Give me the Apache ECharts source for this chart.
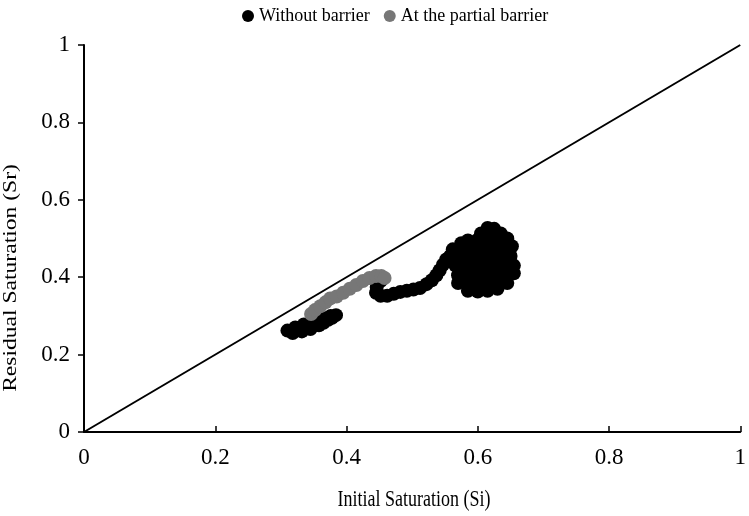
<!DOCTYPE html>
<html>
<head>
<meta charset="utf-8">
<script src="https://cdn.jsdelivr.net/npm/echarts@6/dist/echarts.min.js"></script>
<style>
  html, body { margin: 0; padding: 0; background: #fff; }
  #chart { width: 749px; height: 516px; }
</style>
</head>
<body>
<div id="chart"></div>
<script>
// points: [Si, Sr]
const withoutBarrier = [
  // lower-left tail
  [0.310, 0.262], [0.318, 0.256], [0.325, 0.265], [0.332, 0.260], [0.338, 0.270],
  [0.345, 0.266], [0.350, 0.275], [0.358, 0.276], [0.365, 0.282], [0.372, 0.290],
  [0.378, 0.295], [0.384, 0.302], [0.335, 0.278], [0.355, 0.286], [0.368, 0.294],
  [0.322, 0.270], [0.347, 0.281], [0.376, 0.300],
  // hook under the grey run and the climb to the cluster
  [0.452, 0.390], [0.446, 0.375], [0.445, 0.360], [0.452, 0.352], [0.462, 0.352],
  [0.472, 0.357], [0.482, 0.362], [0.492, 0.365], [0.502, 0.368], [0.512, 0.372],
  [0.522, 0.382], [0.530, 0.392], [0.537, 0.405], [0.542, 0.418], [0.547, 0.432],
  [0.552, 0.446],
  // main cluster
  [0.585, 0.365], [0.600, 0.363], [0.615, 0.365], [0.630, 0.370],
  [0.570, 0.385], [0.585, 0.385], [0.600, 0.385], [0.615, 0.385], [0.630, 0.385], [0.645, 0.385],
  [0.570, 0.405], [0.585, 0.405], [0.600, 0.405], [0.615, 0.405], [0.630, 0.405], [0.645, 0.405], [0.655, 0.410],
  [0.566, 0.430], [0.580, 0.430], [0.595, 0.430], [0.610, 0.430], [0.625, 0.430], [0.640, 0.430], [0.655, 0.430],
  [0.558, 0.455], [0.575, 0.455], [0.590, 0.455], [0.605, 0.455], [0.620, 0.455], [0.635, 0.455], [0.650, 0.455],
  [0.562, 0.472], [0.580, 0.475], [0.595, 0.475], [0.610, 0.475], [0.625, 0.475], [0.640, 0.475], [0.652, 0.480],
  [0.575, 0.488], [0.585, 0.495], [0.600, 0.497], [0.615, 0.495], [0.630, 0.495], [0.645, 0.500],
  [0.605, 0.513], [0.620, 0.515], [0.635, 0.513],
  [0.615, 0.527], [0.625, 0.525]
];

const partialBarrier = [
  [0.346, 0.305], [0.352, 0.315], [0.360, 0.325], [0.368, 0.335], [0.375, 0.345],
  [0.385, 0.350], [0.395, 0.360], [0.405, 0.370], [0.415, 0.380], [0.425, 0.390],
  [0.435, 0.398], [0.445, 0.403], [0.453, 0.403], [0.458, 0.398]
];

const oneToOne = [[0, 0], [1, 1]];

const font = 'Liberation Serif';

const chart = echarts.init(document.getElementById('chart'));

chart.setOption({
  animation: false,
  textStyle: { fontFamily: font, color: '#000' },
  legend: {
    top: 2,
    left: 237,
    itemWidth: 12,
    itemHeight: 12,
    itemGap: 14,
    textStyle: { fontFamily: font, fontSize: 18, color: '#000' },
    data: [
      { name: 'Without barrier', icon: 'circle' },
      { name: 'At the partial barrier', icon: 'circle' }
    ]
  },
  grid: { left: 84, right: 4, top: 45, bottom: 84 },
  xAxis: {
    type: 'value',
    min: 0,
    max: 1,
    interval: 0.2,
    axisLine: { lineStyle: { color: '#000', width: 2 } },
    axisTick: { inside: true, length: 6, lineStyle: { color: '#000', width: 1.5 } },
    axisLabel: { fontFamily: font, fontSize: 23, color: '#000', margin: 14 },
    splitLine: { show: false }
  },
  yAxis: {
    type: 'value',
    min: 0,
    max: 1,
    interval: 0.2,
    axisLine: { show: true, lineStyle: { color: '#000', width: 2 } },
    axisTick: { show: true, length: 6, lineStyle: { color: '#000', width: 1.5 } },
    axisLabel: { fontFamily: font, fontSize: 23, color: '#000', margin: 14 },
    splitLine: { show: false }
  },
  graphic: [
    {
      type: 'text',
      x: 414,
      y: 500,
      scaleY: 1.25,
      style: {
        text: 'Initial Saturation (Si)',
        fontFamily: font,
        fontSize: 18,
        fill: '#000',
        align: 'center',
        verticalAlign: 'middle'
      }
    },
    {
      type: 'text',
      x: 2,
      y: 278,
      rotation: Math.PI / 2,
      scaleX: 1.24,
      style: {
        text: 'Residual Saturation (Sr)',
        fontFamily: font,
        fontSize: 19,
        fill: '#000',
        align: 'center',
        verticalAlign: 'top'
      }
    }
  ],
  series: [
    {
      name: '1:1',
      type: 'line',
      data: oneToOne,
      symbol: 'none',
      silent: true,
      lineStyle: { color: '#000', width: 2 },
      z: 1
    },
    {
      name: 'Without barrier',
      type: 'scatter',
      data: withoutBarrier,
      symbolSize: 14,
      itemStyle: { color: '#000', opacity: 1 },
      z: 2
    },
    {
      name: 'At the partial barrier',
      type: 'scatter',
      data: partialBarrier,
      symbolSize: 14,
      itemStyle: { color: '#777', opacity: 1 },
      z: 3
    }
  ]
});
</script>
</body>
</html>
